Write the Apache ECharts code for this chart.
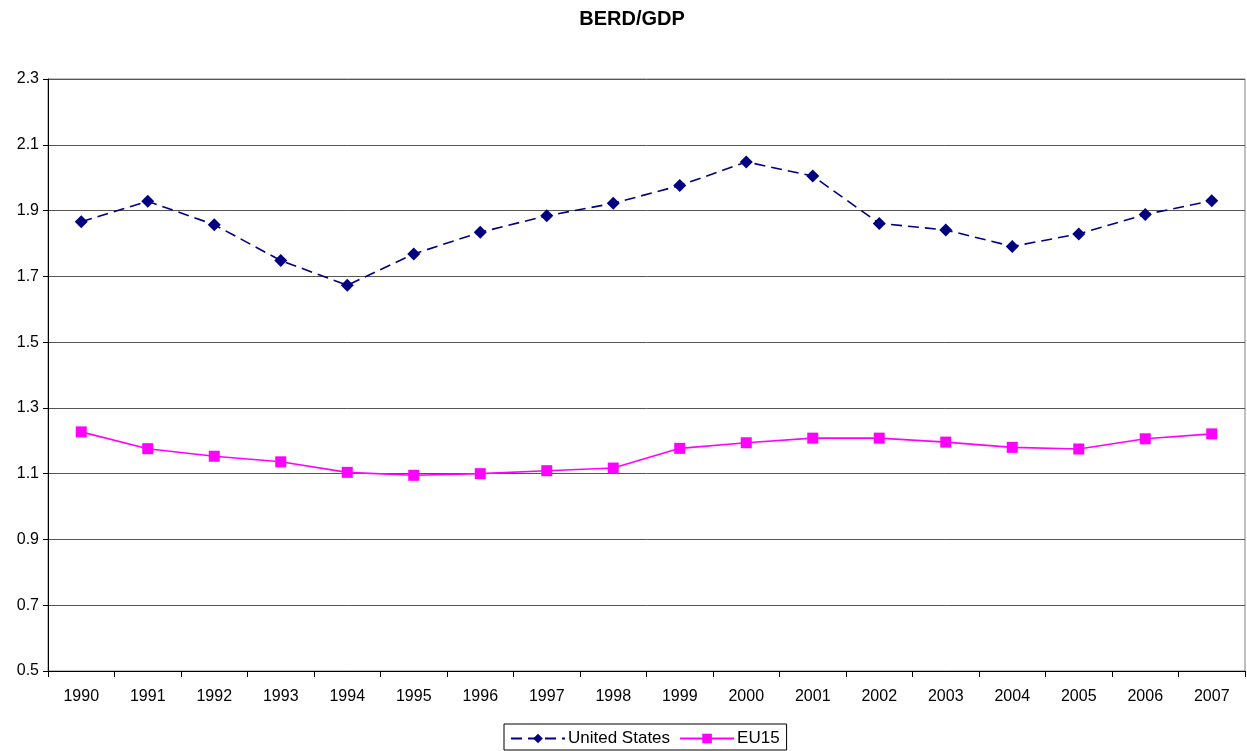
<!DOCTYPE html>
<html>
<head>
<meta charset="utf-8">
<script src="https://cdn.jsdelivr.net/npm/echarts@6/dist/echarts.min.js"></script>
<style>
html, body { margin: 0; padding: 0; background: #fff; }
#chart { width: 1247px; height: 751px; }
</style>
</head>
<body>
<div id="chart"></div>
<script>
var years = ['1990','1991','1992','1993','1994','1995','1996','1997','1998',
             '1999','2000','2001','2002','2003','2004','2005','2006','2007'];
var usValues = [1.866, 1.928, 1.857, 1.748, 1.673, 1.768, 1.834, 1.884, 1.922,
                1.976, 2.048, 2.005, 1.861, 1.841, 1.791, 1.829, 1.888, 1.930];
var eu15Values = [1.227, 1.176, 1.153, 1.136, 1.104, 1.095, 1.100, 1.109, 1.117,
                  1.177, 1.194, 1.208, 1.208, 1.196, 1.180, 1.175, 1.206, 1.221];
var yTicks = { min: 0.5, max: 2.3, step: 0.2 };

var option = {
    backgroundColor: '#fff',
    textStyle: { fontFamily: 'Liberation Sans, Arial, sans-serif' },
    title: {
        text: 'BERD/GDP',
        left: 627,
        top: 4,
        textAlign: 'center',
        textStyle: { fontSize: 20, fontWeight: 'bold', color: '#000' }
    },
    legend: {
        left: 504,
        top: 724,
        padding: [6, 7, 3, 6],
        itemGap: 9,
        itemWidth: 54,
        itemHeight: 12,
        borderColor: '#000',
        borderWidth: 1,
        borderRadius: 0,
        textStyle: { fontSize: 17, color: '#000', padding: [0, 0, 0, -2] },
        data: ['United States', 'EU15']
    },
    grid: {
        left: 48,
        right: 2,
        top: 79,
        height: 592,
        show: true,
        borderColor: '#808080',
        borderWidth: 1
    },
    xAxis: {
        type: 'category',
        boundaryGap: true,
        data: years,
        axisLine: { lineStyle: { color: '#000', width: 1 } },
        axisTick: { show: true, length: 6, lineStyle: { color: '#000' } },
        axisLabel: { color: '#000', fontSize: 16, margin: 18 }
    },
    yAxis: {
        type: 'value',
        min: yTicks.min,
        max: yTicks.max,
        interval: yTicks.step,
        axisLine: { show: true, lineStyle: { color: '#000', width: 1 } },
        axisTick: { show: true, length: 5, lineStyle: { color: '#000' } },
        axisLabel: {
            color: '#000',
            fontSize: 16,
            margin: 9,
            formatter: function (v) { return v.toFixed(1); }
        },
        splitLine: { show: true, lineStyle: { color: '#555', width: 1 } }
    },
    series: [
        {
            name: 'United States',
            type: 'line',
            data: usValues,
            symbol: 'diamond',
            symbolSize: 13,
            itemStyle: { color: '#000080' },
            lineStyle: { color: '#000080', width: 1.6, type: [11, 6] },
            animation: false
        },
        {
            name: 'EU15',
            type: 'line',
            data: eu15Values,
            symbol: 'rect',
            symbolSize: 11,
            itemStyle: { color: '#ff00ff' },
            lineStyle: { color: '#ff00ff', width: 1.6 },
            animation: false
        }
    ]
};
var myChart = echarts.init(document.getElementById('chart'));
myChart.setOption(option);
</script>
</body>
</html>
